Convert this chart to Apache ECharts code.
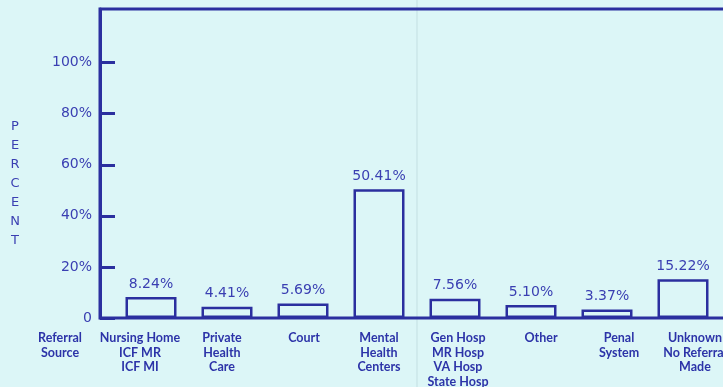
<!DOCTYPE html>
<html>
<head>
<meta charset="utf-8">
<script src="https://cdn.jsdelivr.net/npm/echarts@6/dist/echarts.min.js"></script>
<style>
html,body{margin:0;padding:0;background:#dcf6f7;}
#c{width:723px;height:387px;}
</style>
</head>
<body>
<div id="c"></div>
<script>
const categories = [
  'Nursing Home\nICF MR\nICF MI',
  'Private\nHealth\nCare',
  'Court',
  'Mental\nHealth\nCenters',
  'Gen Hosp\nMR Hosp\nVA Hosp\nState Hosp',
  'Other',
  'Penal\nSystem',
  'Unknown\nNo Referral\nMade'
];
const percents = [8.24, 4.41, 5.69, 50.41, 7.56, 5.10, 3.37, 15.22];
const yTicks = [0, 20, 40, 60, 80, 100];
const yMax = 121;

// label horizontal nudges (style only), px
const labelShift = [-11, -5, 1, 0, 3, 10, 12, 12];

const BG = '#dcf6f7';
const INK = '#2b2f9f';
const TXT = '#3a3fb2';
const CAT = '#2c33a8';

const catData = categories.map((c, i) => {
  const s = labelShift[i];
  return {value: c, textStyle: {padding: s >= 0 ? [0, 0, 0, 2 * s] : [0, -2 * s, 0, 0]}};
});

const chart = echarts.init(document.getElementById('c'), null, {renderer: 'canvas'});
chart.setOption({
  backgroundColor: BG,
  animation: false,
  grid: [
    {left: 100, width: 660, top: 9, bottom: 69, outerBoundsMode: 'none', containLabel: false,
     show: true, borderColor: INK, borderWidth: 3, backgroundColor: 'transparent'},
    {left: 113, width: 608, top: 9, bottom: 69, outerBoundsMode: 'none', containLabel: false}
  ],
  xAxis: [
    {gridIndex: 0, type: 'value', min: 0, max: 1, show: false},
    {gridIndex: 1, type: 'category', data: catData,
     axisLine: {show: false}, axisTick: {show: false},
     axisLabel: {interval: 0, margin: 13, color: CAT, fontFamily: 'Lato', fontWeight: 'bold', fontSize: 12.5, lineHeight: 14.5}}
  ],
  yAxis: [
    {gridIndex: 0, type: 'value', min: 0, max: yMax,
     splitLine: {show: false},
     axisLine: {show: true, lineStyle: {color: INK, width: 3}},
     axisTick: {show: true, inside: true, length: 15, lineStyle: {color: INK, width: 3}, customValues: yTicks},
     axisLabel: {customValues: yTicks, margin: 8, color: TXT, fontFamily: 'DejaVu Sans', fontSize: 14,
       formatter: v => v === 0 ? '0' : v + '%'}},
    {gridIndex: 1, type: 'value', min: 0, max: yMax, show: false}
  ],
  series: [{
    type: 'bar', xAxisIndex: 1, yAxisIndex: 1,
    data: percents, barWidth: 51,
    itemStyle: {color: BG, borderColor: INK, borderWidth: 2.5},
    label: {show: true, position: 'top', distance: 6, color: TXT, fontFamily: 'DejaVu Sans', fontSize: 14,
      formatter: p => p.value.toFixed(2) + '%'}
  }],
  graphic: [
    {type: 'line', silent: true, z: -1, shape: {x1: 417, y1: 0, x2: 417, y2: 387}, style: {stroke: '#c3dfe2', lineWidth: 1}},
    {type: 'text', x: 60, y: 331, style: {text: 'Referral\nSource', fill: CAT, font: 'bold 12.5px Lato', lineHeight: 14.5, align: 'center', verticalAlign: 'top'}},
    {type: 'text', x: 15, y: 117, style: {text: 'P\nE\nR\nC\nE\nN\nT', fill: TXT, font: '13px "DejaVu Sans"', lineHeight: 19, align: 'center', verticalAlign: 'top'}}
  ]
});
</script>
</body>
</html>
